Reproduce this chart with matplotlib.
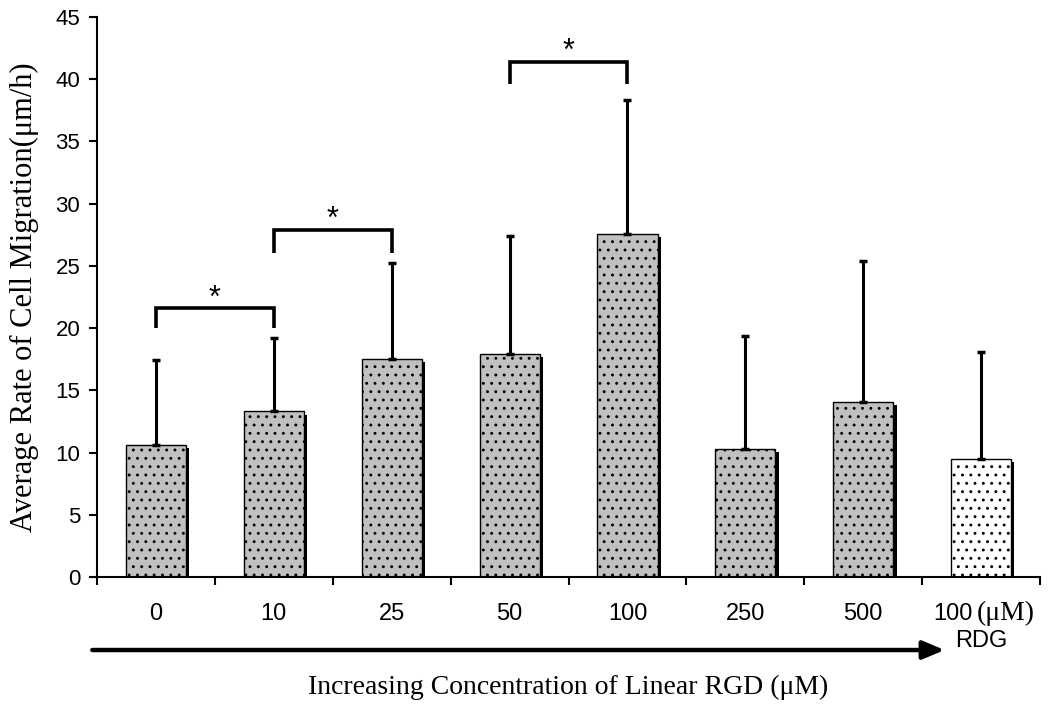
import numpy as np
import matplotlib
matplotlib.use("Agg")
from matplotlib import pyplot as plt

plt.rcParams['hatch.linewidth'] = 0.9
plt.rcParams['hatch.color'] = 'black'

# data
categories = ['0', '10', '25', '50', '100', '250', '500', 'RDG']
means = [10.6, 13.3, 17.5, 17.9, 27.6, 10.3, 14.1, 9.5]
err_up = [6.8, 5.9, 7.7, 9.5, 10.7, 9.1, 11.3, 8.6]
colors = ['#c0c0c0'] * 7 + ['white']

# significance brackets: (left index, right index, top, leg bottom)
brackets = [(0, 1, 21.6, 20.0), (1, 2, 27.9, 26.0), (3, 4, 41.4, 39.6)]

fig = plt.figure(figsize=(10.5, 7.05), dpi=100)
ax = fig.add_axes([0.0924, 0.1816, 0.8981, 0.7943])

x = np.arange(len(categories))
w = 0.51

# shadows
ax.bar(x + 0.028, np.array(means) - 0.25, width=w, color='black', zorder=1)
ax.bar(x, means, width=w, color=colors, edgecolor='black', linewidth=1.0,
       hatch='..', zorder=2)
ax.errorbar(x, means, yerr=[np.zeros(len(means)), err_up], fmt='none',
            ecolor='black', elinewidth=2.2, capsize=3, capthick=2.5, zorder=3)

for a, b, top, leg in brackets:
    ax.plot([a, a, b, b], [leg, top, top, leg], color='black', lw=2.6,
            solid_joinstyle='miter', solid_capstyle='butt', zorder=4)
    ax.text((a + b) / 2, top - 0.45, '*', ha='center', va='bottom',
            fontsize=22, family='Liberation Sans')

ax.set_xlim(-0.5, 7.5)
ax.set_ylim(0, 45)
ax.set_yticks(np.arange(0, 46, 5))
ax.set_xticks(np.arange(-0.5, 8, 1))
ax.set_xticklabels([])
ax.tick_params(axis='both', direction='out', length=6, width=1.5,
               labelsize=16, pad=6)
for lab in ax.get_yticklabels():
    lab.set_family('Liberation Sans')
ax.spines['top'].set_visible(False)
ax.spines['right'].set_visible(False)
ax.spines['left'].set_linewidth(1.5)
ax.spines['bottom'].set_linewidth(1.5)

for i, c in enumerate(categories[:-1]):
    ax.text(i, -2.95, c, ha='center', va='center', fontsize=17,
            family='Liberation Sans')
ax.text(6.93, -2.95, '100', ha='right', va='center', fontsize=17,
        family='Liberation Sans')
ax.text(6.96, -2.95, '(\u03bcM)', ha='left', va='center', fontsize=20,
        family='Liberation Serif')
ax.text(7.0, -5.15, 'RDG', ha='center', va='center', fontsize=17,
        family='Liberation Sans')

ax.annotate('', xy=(6.69, -5.87), xytext=(-0.54, -5.87),
            arrowprops=dict(arrowstyle='-|>,head_length=1.3,head_width=0.55',
                            lw=3.2, color='black', shrinkA=0, shrinkB=0),
            annotation_clip=False)

ax.text(0.5, -0.197, 'Increasing Concentration of Linear RGD (\u03bcM)',
        transform=ax.transAxes, ha='center', va='center', fontsize=20,
        family='Liberation Serif')
ax.set_ylabel('Average Rate of Cell Migration(\u03bcm/h)', fontsize=22,
              family='Liberation Serif')
ax.yaxis.set_label_coords(-0.062, 0.5)

fig.savefig('out.png', dpi=100)
